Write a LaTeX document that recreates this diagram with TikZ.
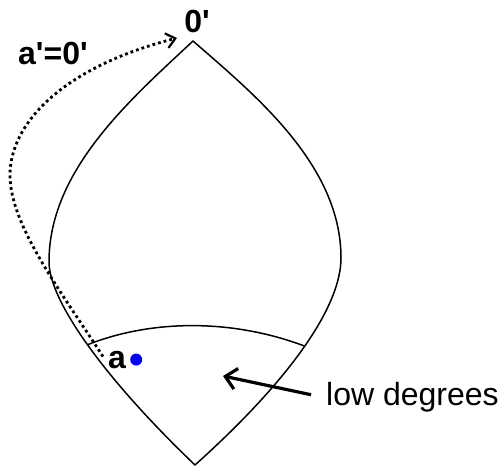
\documentclass[tikz,border=0pt]{standalone}
\usepackage{fontspec}
\setmainfont{Liberation Sans}
\usetikzlibrary{arrows.meta,positioning}
\tikzset{
  outline/.style={line width=1.5pt,line join=round},
  lbl/.style={inner sep=0pt,font=\fontsize{32}{38}\selectfont},
  jump/.style={line width=2.8pt,dash pattern=on 2.8pt off 3pt,-{Straight Barb[length=9pt,width=15pt,line width=2.2pt]}},
  pointer/.style={line width=3.2pt,-{Straight Barb[length=11pt,width=21pt,line width=3.2pt]}}
}
\begin{document}
\begin{tikzpicture}[x=1pt,y=-1pt]
\useasboundingbox (0,0) rectangle (500,468);
\coordinate (top) at (193,41); \coordinate (bot) at (195,465);
\coordinate (lft) at (49,262); \coordinate (rgt) at (341,258);
\draw[outline] (top) .. controls (130,100) and (49,170) .. (lft)
  .. controls (49,300) and (103,377) .. (bot) coordinate[pos=.5] (lol)
  .. controls (293,377) and (341,305) .. (rgt) coordinate[pos=.5] (lor)
  .. controls (341,165) and (255,95) .. (top) -- cycle;
\draw[outline] (lol) .. controls (150,320) and (230,318) .. (lor);
\node[lbl,anchor=base,font=\fontsize{32}{38}\selectfont\bfseries] (zero) at (197,33) {0\textquotesingle};
\node[lbl,anchor=base west,font=\fontsize{32}{38}\selectfont\bfseries] (jumpto) at (18,65) {a\textquotesingle=0\textquotesingle};
\node[lbl,anchor=base west,font=\fontsize{32}{38}\selectfont\bfseries] (a) at (108,368) {a};
\fill[blue] ([xshift=10pt]a.east) circle (6pt) coordinate (dot);
\node[lbl,anchor=base west] (low) at (326,405) {low degrees};
\coordinate (lowpt) at (223,376); \coordinate (zeropt) at (177,38);
\draw[jump] ([xshift=-5pt,yshift=3pt]a.west) .. controls (60,290) and (10,225) .. (10,175)
  .. controls (10,125) and (60,68) .. (zeropt);
\draw[pointer] ([xshift=-15pt,yshift=2pt]low.west) -- (lowpt);
\end{tikzpicture}
\end{document}
